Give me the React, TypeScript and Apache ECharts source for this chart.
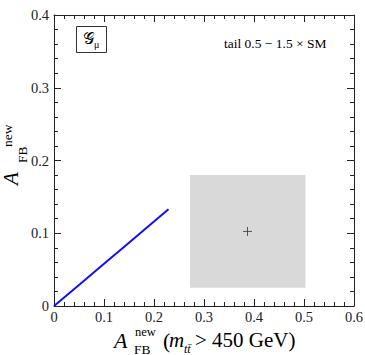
import React, { useEffect, useRef } from "react";
import * as echarts from "echarts";

// ---- data ----
const lineX = [0, 0.05, 0.1, 0.15, 0.2, 0.229];
const lineY = [0, 0.029, 0.058, 0.087, 0.116, 0.133];
const boxX = [0.272, 0.503];
const boxY = [0.025, 0.18];
const pointXY = [0.387, 0.1025];
const xRange = [0, 0.6];
const yRange = [0, 0.4];
const tickStep = 0.1;
const annotation = "tail 0.5 \u2212 1.5 \u00d7 SM";

const SERIF = "'Liberation Serif', 'DejaVu Serif', serif";
const INK = "#222";

function fmt(v: number) {
  return v === 0 ? "0" : v.toFixed(1);
}

function axisCommon(show: boolean) {
  return {
    axisLine: { show: true, onZero: false, lineStyle: { color: INK, width: 1 } },
    axisTick: { show: true, inside: true, length: 7, lineStyle: { color: INK } },
    minorTick: { show: true, splitNumber: 5, length: 4, lineStyle: { color: INK } },
    splitLine: { show: false },
    minorSplitLine: { show: false },
    axisLabel: {
      show,
      color: INK,
      fontFamily: SERIF,
      fontSize: 14.5,
      lineHeight: 11,
      margin: 5,
      formatter: fmt,
    },
  };
}

export default function App() {
  const ref = useRef<HTMLDivElement>(null);
  useEffect(() => {
    if (!ref.current) return;
    const chart = echarts.init(ref.current, undefined, { renderer: "svg" });
    const txt = (
      x: number,
      y: number,
      text: string,
      fontSize: number,
      italic = false,
      rotation = 0
    ) => ({
      type: "text",
      x,
      y,
      rotation,
      style: {
        text,
        fontSize,
        fontFamily: SERIF,
        fontStyle: italic ? "italic" : "normal",
        fill: "#000",
        align: "left",
        verticalAlign: "middle",
      },
    });
    const R = Math.PI / 2;
    chart.setOption({
      animation: false,
      backgroundColor: "#fff",
      grid: { left: 54, top: 15, width: 300, height: 291, outerBoundsMode: "none" },
      xAxis: [
        {
          type: "value",
          min: xRange[0],
          max: xRange[1],
          interval: tickStep,
          position: "bottom",
          ...axisCommon(true),
        },
        {
          type: "value",
          min: xRange[0],
          max: xRange[1],
          interval: tickStep,
          position: "top",
          ...axisCommon(false),
        },
      ],
      yAxis: [
        {
          type: "value",
          min: yRange[0],
          max: yRange[1],
          interval: tickStep,
          position: "left",
          ...axisCommon(true),
        },
        {
          type: "value",
          min: yRange[0],
          max: yRange[1],
          interval: tickStep,
          position: "right",
          ...axisCommon(false),
        },
      ],
      series: [
        {
          type: "line",
          data: [],
          silent: true,
          markArea: {
            silent: true,
            itemStyle: { color: "#d9d9d9" },
            data: [[{ coord: [boxX[0], boxY[0]] }, { coord: [boxX[1], boxY[1]] }]],
          },
        },
        {
          type: "line",
          data: lineX.map((x, i) => [x, lineY[i]]),
          showSymbol: false,
          symbol: "none",
          lineStyle: { color: "#1010ee", width: 2 },
          z: 3,
        },
        {
          type: "scatter",
          data: [pointXY],
          symbol: "path://M5 0 L5 10 M0 5 L10 5",
          symbolSize: 9,
          itemStyle: { color: "transparent", borderColor: "#333", borderWidth: 1 },
          z: 4,
        },
      ],
      graphic: [
        // legend-like box with script G
        {
          type: "rect",
          shape: { x: 76.5, y: 26.5, width: 30, height: 26 },
          style: { fill: "none", stroke: "#333", lineWidth: 1 },
        },
        txt(83, 38, "\ud835\udca2", 16),
        txt(94, 44, "\u03bc", 10),
        txt(224, 43, annotation, 13.5),
        // x-axis title
        txt(114, 340, "A", 22, true),
        txt(135, 332, "new", 12.5),
        txt(134, 349, "FB", 13.5),
        txt(163, 340, "(", 22),
        txt(169, 340, "m", 21, true),
        txt(184, 349, "tt\u0304", 12, true),
        txt(195, 340, "> 450 GeV)", 21),
        // y-axis title (rotated, reading upward)
        txt(11, 185, "A", 21, true, R),
        txt(7, 147, "new", 13.5, false, R),
        txt(22, 163, "FB", 13.5, false, R),
      ],
    });
    return () => chart.dispose();
  }, []);
  return (
    <div
      ref={ref}
      style={{ position: "fixed", left: 0, top: 0, width: 365, height: 355, background: "#fff" }}
    />
  );
}
